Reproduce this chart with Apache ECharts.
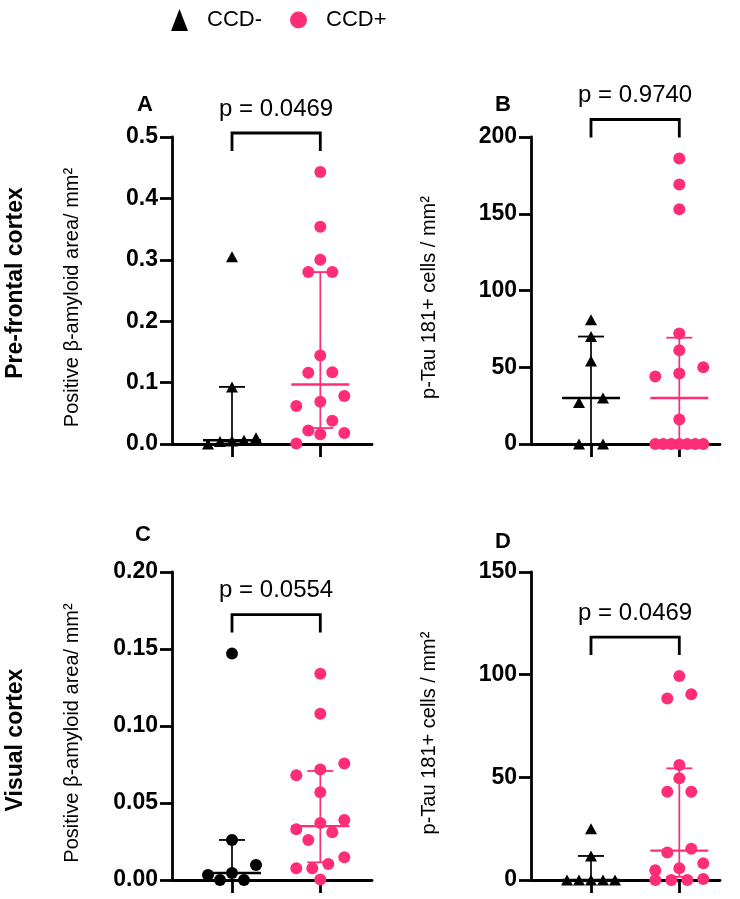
<!DOCTYPE html>
<html>
<head>
<meta charset="utf-8">
<script src="https://cdn.jsdelivr.net/npm/echarts@6/dist/echarts.min.js"></script>
<style>
  html, body { margin: 0; padding: 0; background: #fff; }
  #main { width: 740px; height: 899px; }
</style>
</head>
<body>
<div id="main"></div>
<script>
// panel A: pre-frontal beta-amyloid
const amyPfcNeg = [0.305, 0.093, 0.010, 0.006, 0.005, 0.004, 0.0]
const amyPfcPos = [0.443, 0.354, 0.300, 0.280, 0.280, 0.144, 0.117, 0.116, 0.078, 0.069, 0.062, 0.038, 0.022, 0.018, 0.016, 0.001]
// panel B: pre-frontal p-Tau
const tauPfcNeg = [81, 70, 54, 30, 27, 0, 0]
const tauPfcPos = [186, 169, 153, 72, 61, 50, 46, 44, 16, 0, 0, 0, 0, 0, 0, 0]
// panel C: visual beta-amyloid
const amyVisNeg = [0.147, 0.026, 0.0097, 0.0045, 0.0032, 0, 0]
const amyVisPos = [0.134, 0.108, 0.0756, 0.0717, 0.068, 0.057, 0.039, 0.037, 0.033, 0.031, 0.026, 0.0147, 0.0104, 0.0076, 0.0076, 0.0004]
// panel D: visual p-Tau
const tauVisNeg = [25, 11.7, 0, 0, 0, 0, 0]
const tauVisPos = [99.3, 90.5, 88.4, 56, 49.5, 43, 43, 15.2, 13.4, 8.1, 5.7, 4.8, 0.5, 0, 0, 0]

const groupNames = ['CCD-', 'CCD+']
const panelLetters = ['A', 'B', 'C', 'D']
const pValues = ['p = 0.0469', 'p = 0.9740', 'p = 0.0554', 'p = 0.0469']
const yMax = [0.5, 200, 0.2, 150]
const yStep = [0.1, 50, 0.05, 50]
const yDecimals = [1, 0, 2, 0]
const yNames = ['Positive β-amyloid area/ mm²', 'p-Tau 181+ cells / mm²', 'Positive β-amyloid area/ mm²', 'p-Tau 181+ cells / mm²']
const rowLabels = ['Pre-frontal cortex', 'Visual cortex']

const panels = [
  [amyPfcNeg, amyPfcPos],
  [tauPfcNeg, tauPfcPos],
  [amyVisNeg, amyVisPos],
  [tauVisNeg, tauVisPos]
]

const PINK = '#ff2d78'
const FONT = 'Liberation Sans, Arial, sans-serif'
const negSymbol = ['triangle', 'triangle', 'circle', 'triangle']
const DOT = 12      // symbol size in px
const SPREAD = 48   // max row width in px

const grids = [
  { left: 172, top: 137, width: 200, height: 307 },
  { left: 531, top: 137, width: 189, height: 307 },
  { left: 172, top: 572, width: 200, height: 308 },
  { left: 531, top: 572, width: 189, height: 308 }
]

// quantile, (n+1)p method like Prism
function quant (vals, p) {
  const s = [...vals].sort((a, b) => a - b)
  const pos = (s.length + 1) * p
  const lo = Math.floor(pos)
  if (lo < 1) return s[0]
  if (lo >= s.length) return s[s.length - 1]
  return s[lo - 1] + (pos - lo) * (s[lo] - s[lo - 1])
}

const chart = echarts.init(document.getElementById('main'))

function renderErr (params, api) {
  const x = api.value(0)
  const c = api.coord([x, api.value(1)])
  const lo = api.coord([x, api.value(2)])
  const hi = api.coord([x, api.value(3)])
  const color = api.value(4) ? PINK : '#000'
  const ln = (x1, y1, x2, y2, w) => ({
    type: 'line',
    shape: { x1, y1, x2, y2 },
    style: { stroke: color, lineWidth: w }
  })
  return {
    type: 'group',
    children: [
      ln(c[0], lo[1], c[0], hi[1], 1.7),
      ln(c[0] - 13, lo[1], c[0] + 13, lo[1], 1.8),
      ln(c[0] - 13, hi[1], c[0] + 13, hi[1], 1.8),
      ln(c[0] - 29, c[1], c[0] + 29, c[1], 2.4)
    ]
  }
}

function makeBracket (label) {
  return function (params, api) {
    const a = api.coord([api.value(0), api.value(1)])
    const b = api.coord([api.value(2), api.value(1)])
    const legBottom = a[1] - 21
    const top = legBottom - 18
    return {
      type: 'group',
      children: [
        {
          type: 'polyline',
          shape: { points: [[a[0], legBottom], [a[0], top], [b[0], top], [b[0], legBottom]] },
          style: { stroke: '#000', lineWidth: 2.8, fill: null }
        },
        {
          type: 'text',
          x: (a[0] + b[0]) / 2,
          y: top - 24,
          style: { text: label, fill: '#000', font: '24px ' + FONT, textAlign: 'center', textVerticalAlign: 'middle' }
        }
      ]
    }
  }
}

const xAxes = []
const yAxes = []
const series = []

panels.forEach((groups, i) => {
  const g = grids[i]
  const pxUnit = 88.3
  const xMin = 1 - 60 / pxUnit
  xAxes.push({
    type: 'value',
    gridIndex: i,
    min: xMin,
    max: xMin + g.width / pxUnit,
    axisLine: { show: true, onZero: false, lineStyle: { color: '#000', width: 2.8 } },
    axisTick: { show: true, customValues: [1, 2], length: 13, lineStyle: { color: '#000', width: 2.8 } },
    axisLabel: { show: false },
    splitLine: { show: false }
  })
  yAxes.push({
    type: 'value',
    gridIndex: i,
    min: 0,
    max: yMax[i],
    interval: yStep[i],
    name: yNames[i],
    nameLocation: 'middle',
    nameGap: i % 2 === 0 ? 90 : 92,
    nameTextStyle: { color: '#000', fontSize: 20, fontFamily: FONT, padding: [0, 0, 0, -14] },
    axisLine: { show: true, onZero: false, lineStyle: { color: '#000', width: 2.8 } },
    axisTick: { show: true, length: 12, lineStyle: { color: '#000', width: 2.8 } },
    axisLabel: {
      color: '#000',
      fontSize: 23,
      fontWeight: 'bold',
      fontFamily: FONT,
      margin: 14,
      formatter: v => v.toFixed(yDecimals[i])
    },
    splitLine: { show: false }
  })
  groups.forEach((vals, k) => {
    series.push({
      name: groupNames[k],
      type: 'scatter',
      xAxisIndex: i,
      yAxisIndex: i,
      symbol: k === 0 ? negSymbol[i] : 'circle',
      symbolSize: k === 0 && negSymbol[i] === 'triangle' ? [12, 11] : DOT,
      itemStyle: { color: k === 0 ? '#000' : PINK, opacity: 1 },
      data: vals.map(v => [k + 1, v]),
      z: 2
    })
  })
  // median with interquartile range
  series.push({
    type: 'custom',
    xAxisIndex: i,
    yAxisIndex: i,
    renderItem: renderErr,
    data: groups.map((vals, k) => [k + 1, quant(vals, 0.5), quant(vals, 0.25), quant(vals, 0.75), k]),
    z: 3,
    silent: true
  })
  // significance bracket above highest point
  const top = Math.max(...groups[0], ...groups[1])
  series.push({
    type: 'custom',
    xAxisIndex: i,
    yAxisIndex: i,
    clip: false,
    renderItem: makeBracket(pValues[i]),
    data: [[1, top, 2]],
    z: 4,
    silent: true
  })
})

const letterPos = [[145, 105], [503, 105], [143, 535], [503, 542]]
const graphics = panelLetters.map((t, i) => ({
  type: 'text',
  x: letterPos[i][0],
  y: letterPos[i][1],
  style: { text: t, fill: '#000', font: 'bold 22px ' + FONT, textAlign: 'center', textVerticalAlign: 'middle' }
}))
const rowPos = [283, 740]
rowLabels.forEach((t, i) => {
  graphics.push({
    type: 'text',
    x: 16,
    y: rowPos[i],
    rotation: Math.PI / 2,
    style: { text: t, fill: '#000', font: 'bold 23px ' + FONT, textAlign: 'center', textVerticalAlign: 'middle' }
  })
})

chart.setOption({
  animation: false,
  backgroundColor: '#fff',
  legend: {
    top: 4,
    left: 166,
    itemWidth: 17,
    itemHeight: 22,
    itemGap: 28,
    selectedMode: false,
    data: [{ name: 'CCD-', icon: 'triangle' }, { name: 'CCD+', icon: 'circle' }],
    textStyle: { color: '#000', fontSize: 22, fontFamily: FONT, padding: [0, 0, 0, 14] }
  },
  grid: grids,
  xAxis: xAxes,
  yAxis: yAxes,
  series: series,
  graphic: graphics
})

// spread points sideways in rows, like a column scatter
function swarm (vals, gridIndex, group) {
  const py = vals.map(v => chart.convertToPixel({ gridIndex }, [group, v])[1])
  const pxUnit = chart.convertToPixel({ gridIndex }, [2, 0])[0] - chart.convertToPixel({ gridIndex }, [1, 0])[0]
  const order = vals.map((v, i) => i).sort((a, b) => vals[b] - vals[a])
  const xs = new Array(vals.length)
  let k = 0
  while (k < order.length) {
    const row = [order[k]]
    let j = k + 1
    while (j < order.length && py[order[j]] - py[order[k]] < DOT) {
      row.push(order[j])
      j++
    }
    row.sort((a, b) => vals[a] - vals[b])
    const n = row.length
    const s = n > 1 ? Math.min(2 * DOT, SPREAD / (n - 1)) : 0
    row.forEach((idx, m) => { xs[idx] = group + (m - (n - 1) / 2) * s / pxUnit })
    k = j
  }
  return vals.map((v, m) => [xs[m], v])
}

const newSeries = series.map(() => ({}))
let si = 0
panels.forEach((groups, i) => {
  groups.forEach((vals, k) => {
    newSeries[si] = { data: swarm(vals, i, k + 1) }
    si++
  })
  si += 2
})
chart.setOption({ series: newSeries })
</script>
</body>
</html>
